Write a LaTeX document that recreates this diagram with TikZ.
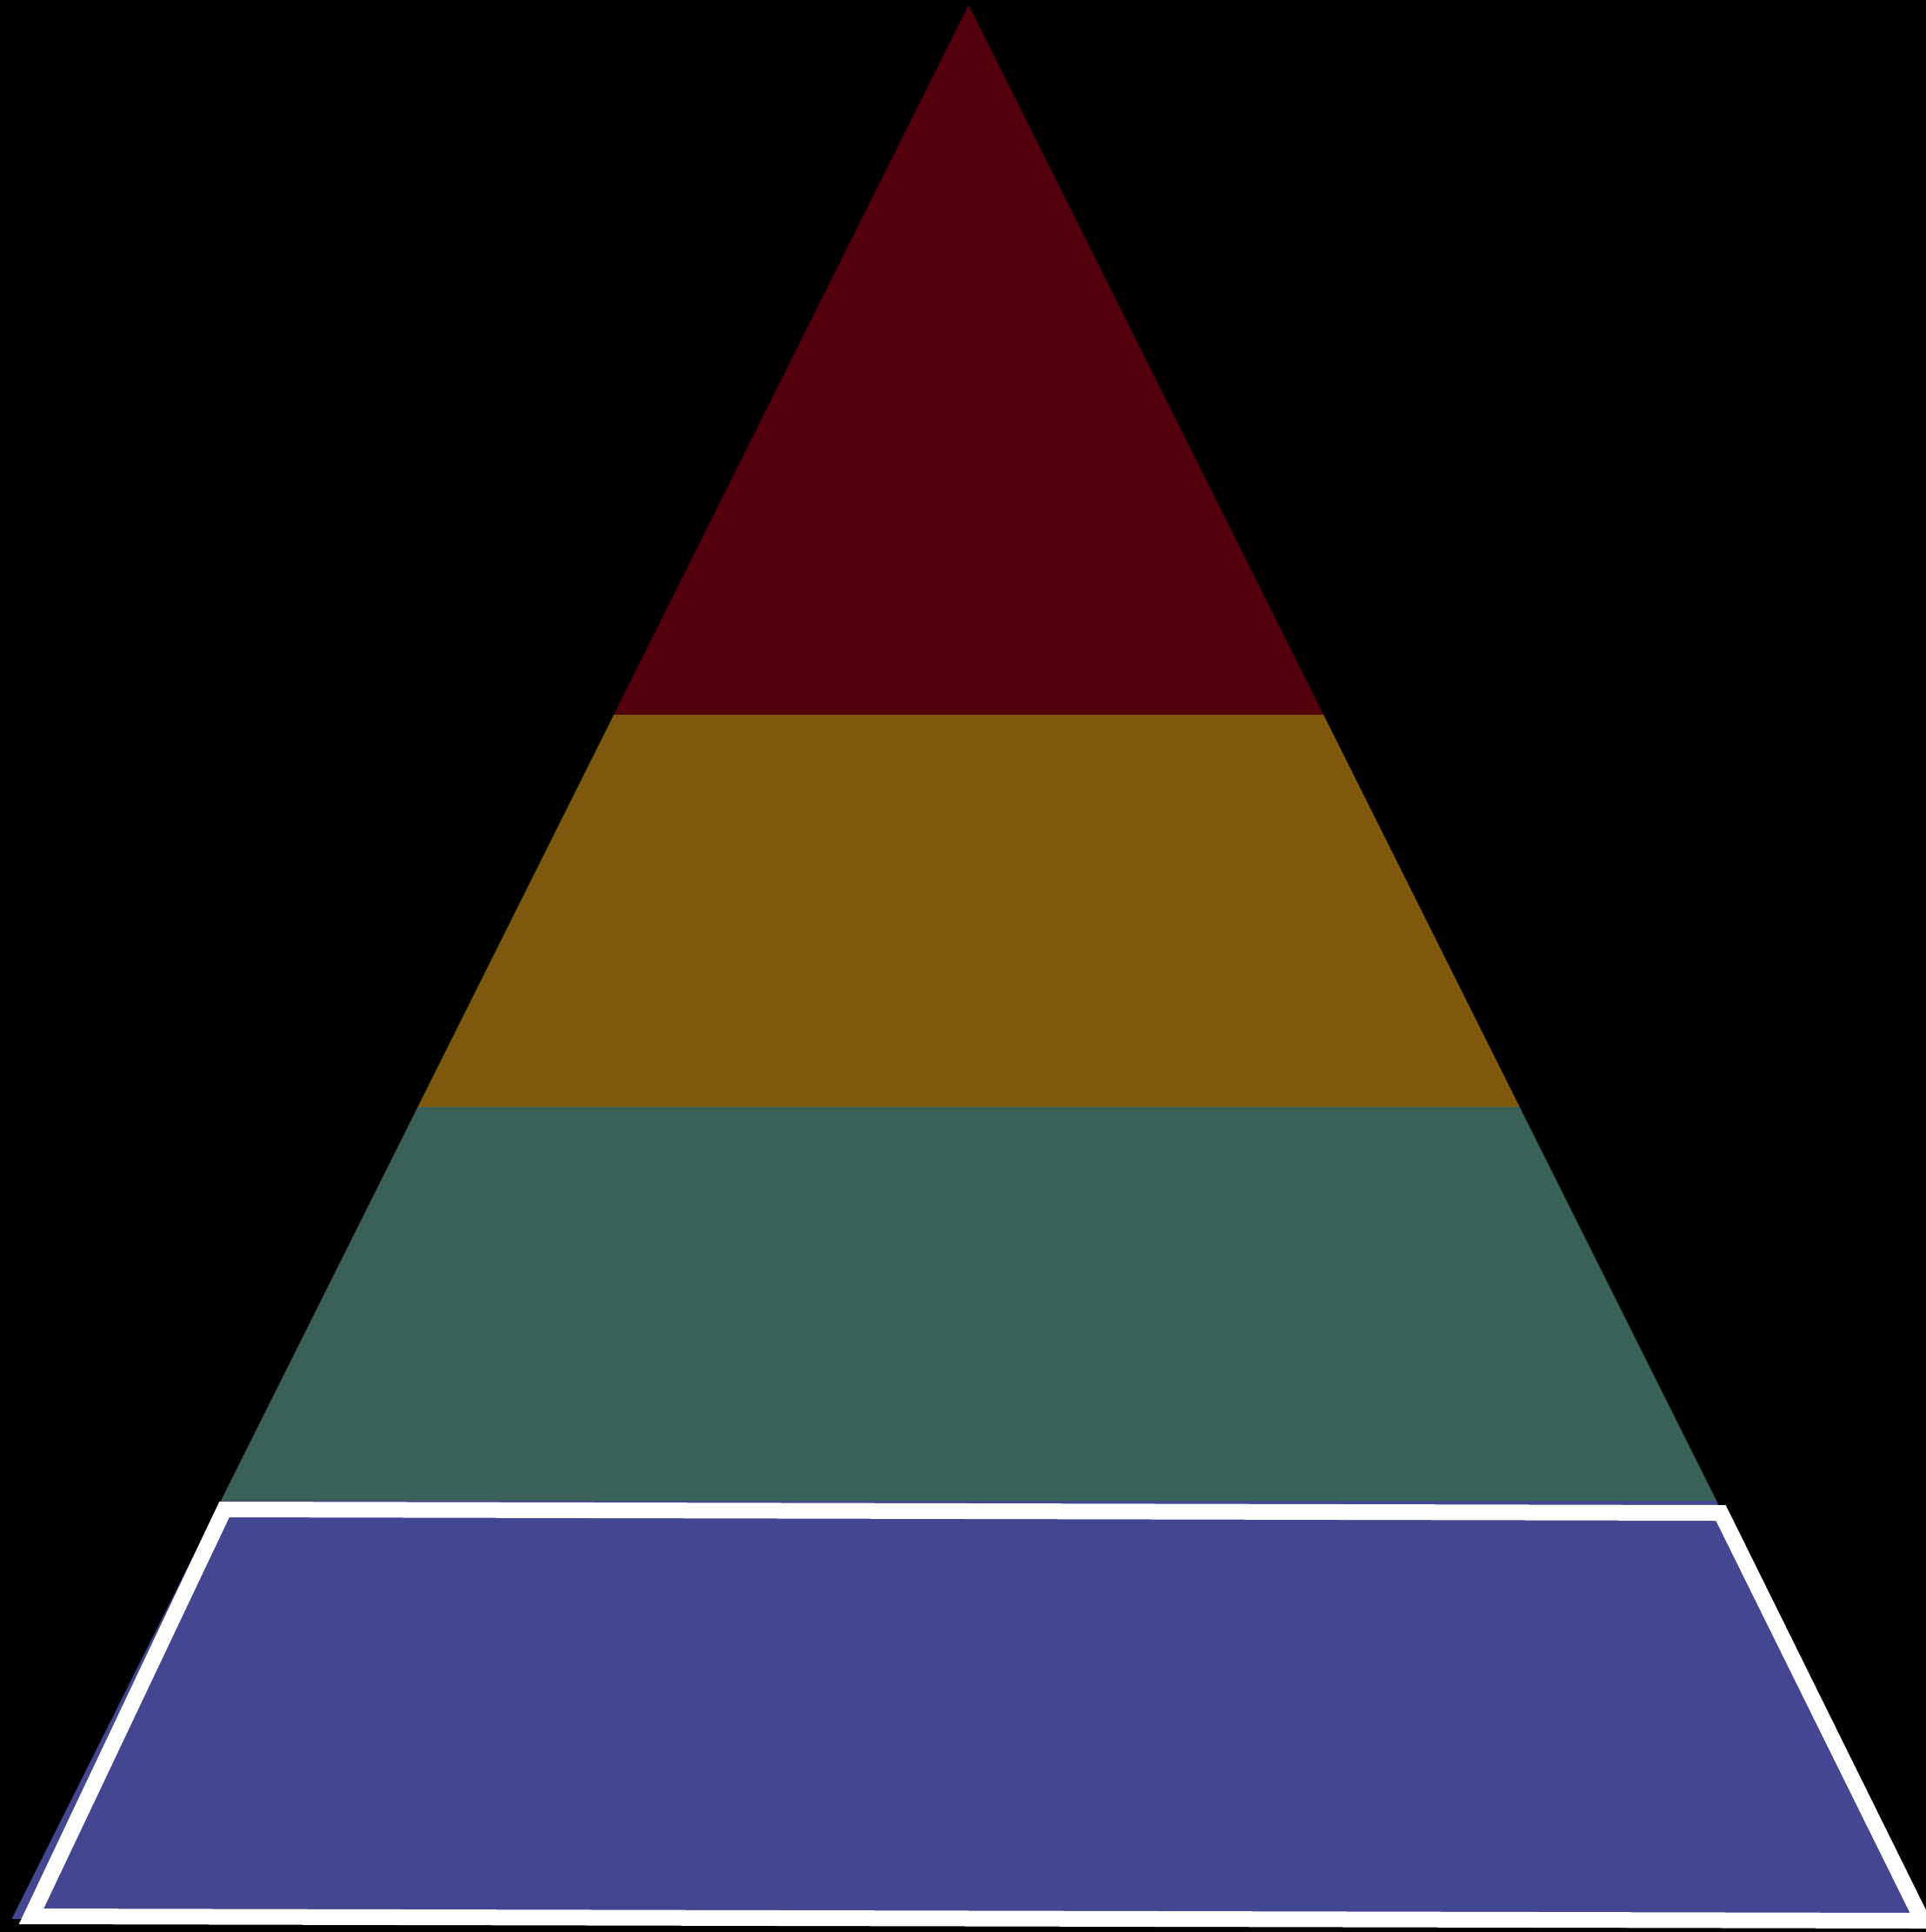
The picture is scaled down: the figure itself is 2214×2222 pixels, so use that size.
\documentclass[tikz,border=0pt]{standalone}
\definecolor{tierred}{RGB}{82,1,12}
\definecolor{tiergold}{RGB}{127,90,14}
\definecolor{tiergreen}{RGB}{58,98,89}
\definecolor{tierblue}{RGB}{67,70,145}

\begin{document}
\begin{tikzpicture}[x=0.01cm, y=-0.01cm,
    picked/.style={draw=white, line width=0.18cm, fill=tierblue}]
  \useasboundingbox (0,0) rectangle (2214,2222);
  \fill[black] (-20,-20) rectangle (2240,2240);
  % pyramid tiers, sides of slope 1/2 from the apex
  \foreach \ytop/\ybot/\col in {6/822/tierred, 822/1273/tiergold, 1273/1726/tiergreen, 1726/2207/tierblue}
    \fill[\col] ({1114-0.5*(\ytop-6)},\ytop) -- ({1114+0.5*(\ytop-6)},\ytop)
      -- ({1114+0.5*(\ybot-6)},\ybot) -- ({1114-0.5*(\ybot-6)},\ybot) -- cycle;
  \coordinate (tl) at (258,1736);
  \coordinate (tr) at (1979,1740);
  \coordinate (br) at (2211,2209);
  \coordinate (bl) at (36,2204);
  \draw[picked] (tl) -- (tr) -- (br) -- (bl) -- cycle;
\end{tikzpicture}
\end{document}
